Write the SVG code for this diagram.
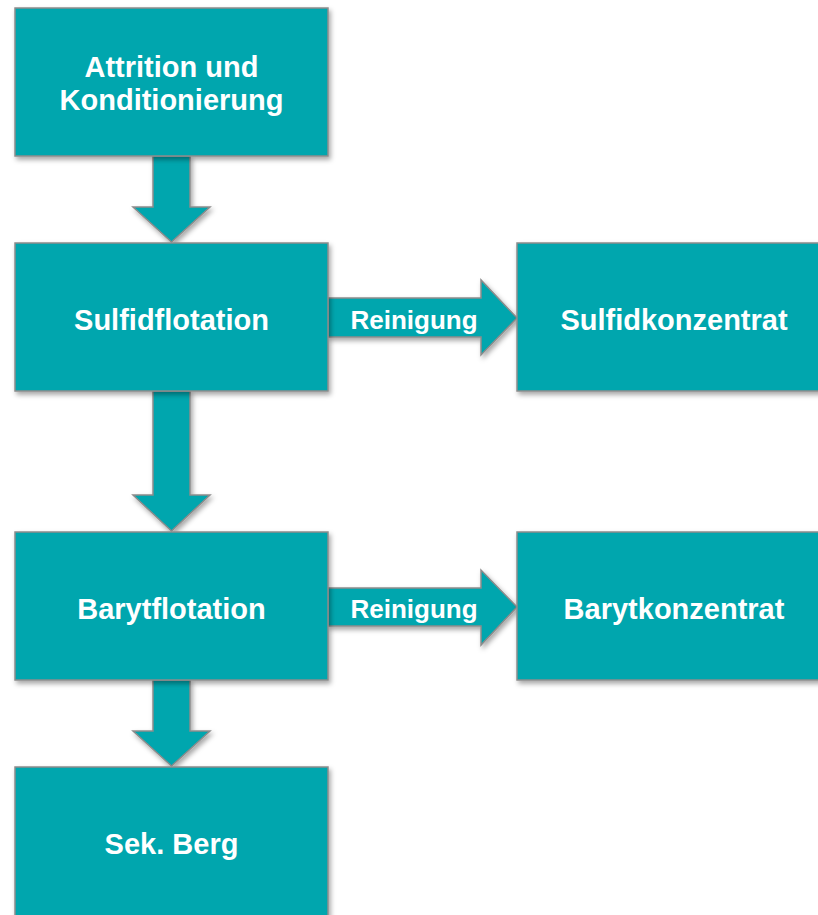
<svg xmlns="http://www.w3.org/2000/svg" width="818" height="915" viewBox="0 0 818 915">
<defs>
<filter id="sh" x="-10%" y="-10%" width="130%" height="130%">
<feDropShadow dx="2" dy="3" stdDeviation="2.5" flood-color="#000" flood-opacity="0.35"/>
</filter>
<style>
.box{fill:#00A6AE;stroke:#8C8C8C;stroke-width:1.5;filter:url(#sh)}
.arr{fill:#00A6AE;stroke:#8C8C8C;stroke-width:1.5;stroke-linejoin:miter;filter:url(#sh)}
.t{font-family:"Liberation Sans",Arial,Helvetica,sans-serif;font-weight:bold;fill:#fff;text-anchor:middle;font-size:29px}
.s{font-size:26px}
</style>
</defs>
<g id="connectors">
<polygon class="arr" points="153,156 190,156 190,207 210,207 171.5,242 133,207 153,207"/>
<polygon class="arr" points="153,391 190,391 190,495 210,495 171.5,531 133,495 153,495"/>
<polygon class="arr" points="153,680 190,680 190,731 210,731 171.5,766 133,731 153,731"/>
<g id="edge-reinigung-1">
<polygon class="arr" points="328,298 481,298 481,280 517,318 481,355 481,337 328,337"/>
<text class="t s" x="414" y="329">Reinigung</text>
</g>
<g id="edge-reinigung-2">
<polygon class="arr" points="328,588 481,588 481,570 517,607 481,645 481,626 328,626"/>
<text class="t s" x="414" y="618">Reinigung</text>
</g>
</g>
<g id="n1"><rect class="box" x="15" y="8" width="313" height="148"/>
<text class="t" x="171.5" y="77">Attrition und</text>
<text class="t" x="171.5" y="110">Konditionierung</text></g>
<g id="n2"><rect class="box" x="15" y="243" width="313" height="148"/>
<text class="t" x="171.5" y="330">Sulfidflotation</text></g>
<g id="n3"><rect class="box" x="517" y="243" width="313" height="148"/>
<text class="t" x="674" y="330">Sulfidkonzentrat</text></g>
<g id="n4"><rect class="box" x="15" y="532" width="313" height="148"/>
<text class="t" x="171.5" y="619">Barytflotation</text></g>
<g id="n5"><rect class="box" x="517" y="532" width="313" height="148"/>
<text class="t" x="674" y="619">Barytkonzentrat</text></g>
<g id="n6"><rect class="box" x="15" y="767" width="313" height="160"/>
<text class="t" x="171.5" y="854">Sek. Berg</text></g>
</svg>
